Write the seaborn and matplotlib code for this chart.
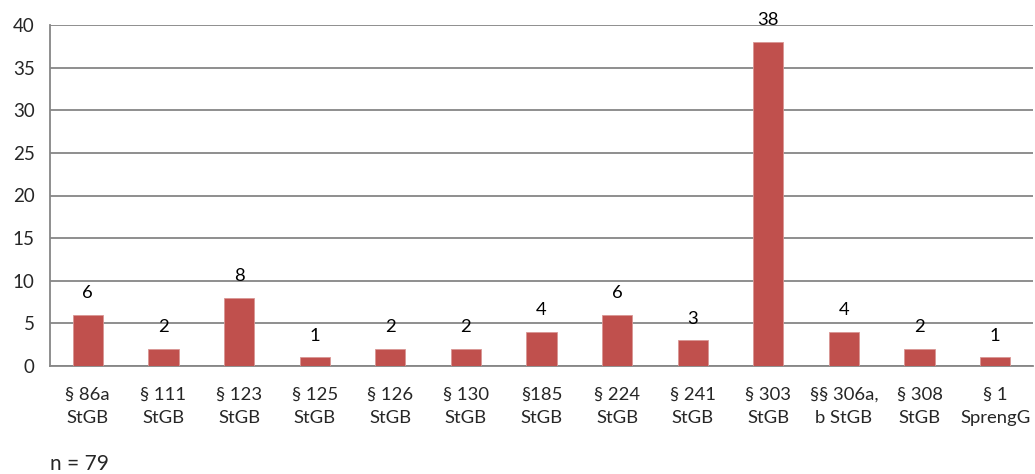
import matplotlib
matplotlib.use("Agg")
import matplotlib.pyplot as plt
import seaborn as sns
import pandas as pd
import numpy as np

categories = ["§ 86a\nStGB", "§ 111\nStGB", "§ 123\nStGB", "§ 125\nStGB", "§ 126\nStGB",
              "§ 130\nStGB", "§185\nStGB", "§ 224\nStGB", "§ 241\nStGB", "§ 303\nStGB",
              "§§ 306a,\nb StGB", "§ 308\nStGB", "§ 1\nSprengG"]
values = [6, 2, 8, 1, 2, 2, 4, 6, 3, 38, 4, 2, 1]
yticks = [0, 5, 10, 15, 20, 25, 30, 35, 40]
note = "n = 79"

sns.set_theme(style="white")
plt.rcParams['font.family'] = ['Lato', 'DejaVu Sans']

df = pd.DataFrame({"cat": categories, "val": values})

fig = plt.figure(figsize=(10.35, 4.74), dpi=100)
ax = fig.add_axes([50/1035, 1-366/474, 983/1035, 341/474])

grid_color = "#868686"
sns.barplot(data=df, x="cat", y="val", color="#C0504D", width=0.4, saturation=1,
            ax=ax, zorder=3, edgecolor="#D99694", linewidth=0.6)

ax.set_ylim(0, 40)
ax.set_xlim(-0.5, len(categories) - 0.5)
ax.set_yticks(yticks)
ax.set_yticklabels([str(t) for t in yticks])
for t in yticks:
    ax.axhline(t, color=grid_color, linewidth=1.3, zorder=1)

ax.set_xlabel("")
ax.set_ylabel("")
ax.tick_params(axis="x", which="major", length=0, labelsize=13.3, pad=15)
ax.tick_params(axis="y", which="major", length=5, color=grid_color, width=1.3, pad=6, labelsize=13.5)
for lab in ax.get_xticklabels():
    lab.set_linespacing(1.55)
ax.set_xticks(np.arange(-0.5, len(categories), 1), minor=True)
ax.tick_params(axis="x", which="minor", length=6, color=grid_color, width=1.3)

for s in ["top", "right"]:
    ax.spines[s].set_visible(False)
for s in ["left", "bottom"]:
    ax.spines[s].set_color(grid_color)
    ax.spines[s].set_linewidth(1.3)

for i, v in enumerate(values):
    ax.annotate(str(v), (i, v), xytext=(0, 10), textcoords="offset points",
                ha="center", va="bottom", fontsize=13.3, color="black", zorder=5)

fig.text(50/1035, 1-464/474, note, fontsize=15, ha="left", va="center")

fig.savefig("out.png", dpi=100)
